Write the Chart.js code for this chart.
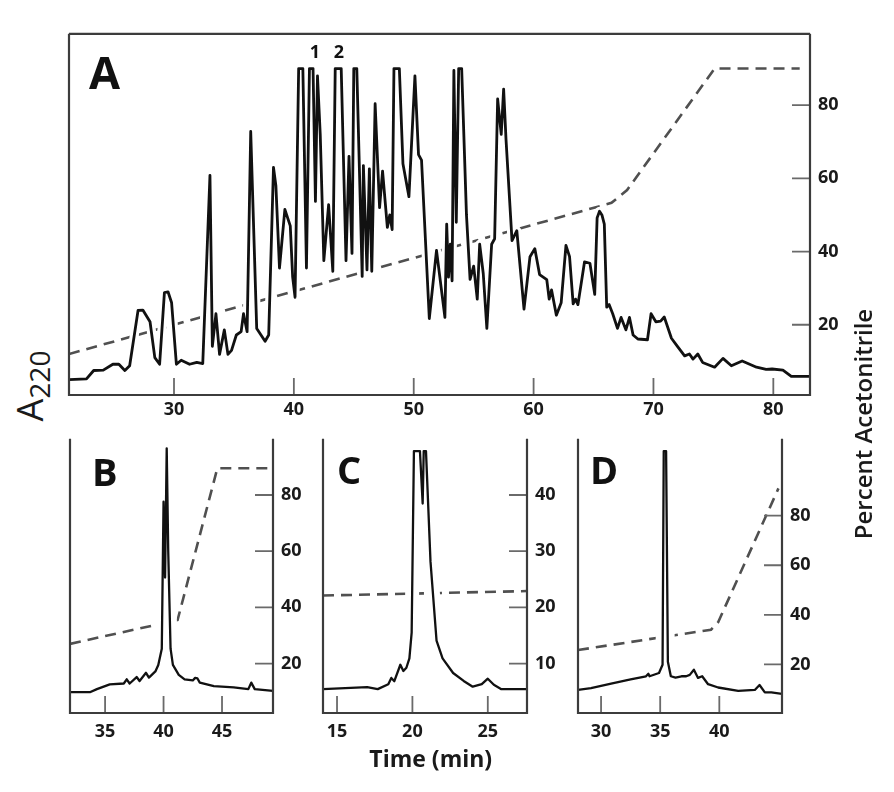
<!DOCTYPE html>
<html>
<head>
<meta charset="utf-8">
<script src="https://cdn.jsdelivr.net/npm/chart.js@4.4.1/dist/chart.umd.min.js"></script>
<style>
  body { margin: 0; background: #fff; width: 894px; height: 792px; position: relative; overflow: hidden; font-family: "Open Sans", sans-serif; }
  canvas { position: absolute; }
  .rot { position: absolute; transform: rotate(-90deg); white-space: nowrap; text-align: center; color: #1a1a1a; }
</style>
</head>
<body>
<canvas id="panelA" width="801" height="410" style="left:59px;top:15px"></canvas>
<canvas id="panelB" width="253" height="325" style="left:60px;top:420px"></canvas>
<canvas id="panelC" width="254" height="360" style="left:313px;top:420px"></canvas>
<canvas id="panelD" width="259" height="325" style="left:568px;top:420px"></canvas>
<div class="rot" style="left:713px;top:408px;width:300px;height:32px;line-height:32px;font-size:24px;font-weight:600">Percent Acetonitrile</div>
<div class="rot" style="left:-30px;top:366px;width:120px;height:40px;line-height:40px;font-size:36px;font-weight:500">A<span style="font-size:0.78em;vertical-align:-0.25em">220</span></div>
<script>
// ---- panel A : crude extract ----
const timeA = [21.24, 22.7, 23.3, 24.1, 24.9, 25.4, 25.9, 26.3, 27.0, 27.4, 28.0, 28.4, 28.8, 29.2, 29.5, 29.8,
  30.2, 30.6, 31.3, 31.9, 32.4, 33.0, 33.2, 33.5, 33.8, 34.2, 34.5, 34.8, 35.2, 35.6, 35.8, 36.1, 36.4, 36.9,
  37.6, 37.9, 38.3, 38.5, 38.8, 39.25, 39.7, 39.9, 40.1, 40.4, 40.75, 41.05, 41.3, 41.6, 41.8, 41.97, 42.2,
  42.5, 42.9, 43.25, 43.45, 43.95, 44.35, 44.6, 44.85, 45.0, 45.25, 45.7, 45.8, 46.1, 46.3, 46.5, 46.78,
  47.15, 47.4, 47.8, 48.0, 48.2, 48.35, 48.8, 49.1, 49.6, 50.1, 50.4, 50.65, 51.3, 51.9, 52.6, 52.75, 52.9,
  53.05, 53.2, 53.35, 53.55, 53.75, 54.0, 54.4, 54.7, 55.0, 55.3, 55.5, 55.8, 56.1, 56.5, 56.75, 57.0, 57.3,
  57.5, 57.7, 58.2, 58.6, 59.2, 59.7, 60.1, 60.5, 61.1, 61.3, 61.5, 61.9, 62.3, 62.7, 63.0, 63.3, 63.5, 63.7,
  64.25, 64.7, 65.1, 65.3, 65.5, 65.7, 65.9, 66.1, 66.3, 66.6, 67.0, 67.3, 67.7, 68.0, 68.3, 68.7, 69.5,
  69.8, 70.2, 70.6, 70.9, 71.5, 72.0, 72.6, 73.0, 73.3, 73.7, 74.1, 75.1, 75.8, 76.5, 77.4, 78.6, 79.4,
  79.9, 80.8, 81.5, 83.06];
const absA = [5.0, 5.2, 7.5, 7.6, 9.2, 9.2, 7.5, 8.8, 23.9, 24.0, 20.8, 11.0, 9.2, 28.8, 29.0, 26.0,
  9.2, 10.3, 9.2, 9.7, 9.4, 60.8, 14.1, 23.0, 11.9, 18.6, 11.9, 13.0, 17.2, 18.1, 23.0, 18.1, 72.8, 19.0,
  15.5, 17.2, 63.0, 58.0, 35.5, 51.5, 47.0, 33.0, 27.5, 90, 90, 35.5, 90, 90, 53.7, 88, 72,
  37.5, 52.8, 34.6, 90, 90, 37.5, 66, 39.5, 90, 90, 33.2, 63.5, 35, 62.6, 34.6, 80.4,
  52, 62, 46.6, 50, 46, 90, 90, 64, 55, 88, 66.5, 65, 21.7, 40.3, 22, 47.5, 33,
  42, 32, 89.5, 48, 90, 90, 50, 32.4, 36, 27, 42, 34, 19, 42, 43.5, 81.7, 72,
  84.4, 70.6, 43, 45.7, 24.3, 38.6, 40.8, 33.7, 32.3, 27, 29.5, 22.6, 26, 41.7, 38.6, 25.7, 27, 25.5,
  37.2, 36.8, 28.3, 49.2, 51, 50, 47.5, 24.8, 25.5, 23, 19, 22, 18.6, 22, 17.2, 16.1, 15.9,
  23, 20.8, 21, 22.1, 16.3, 14.1, 11.5, 12, 10.6, 12, 9.7, 8.4, 10.8, 8.8, 10.1, 8.4, 7.8,
  7.9, 7.6, 5.9, 5.9];
const gradTimeA = [21.24, 66.5, 67.8, 75.1, 82.2];
const gradA = [12, 53.3, 56.8, 90, 90];
const timeTicksA = [30, 40, 50, 60, 70, 80];
const pctTicksA = [20, 40, 60, 80];
const peakNames = ['1', '2'];
const peakTimes = [41.75, 43.75];

// ---- panel B ----
const timeB = [32.0, 33.7, 34.3, 35.4, 36.6, 36.85, 37.1, 37.7, 37.95, 38.5, 38.75, 39.3, 39.55, 39.85, 40.0,
  40.13, 40.27, 40.4, 40.6, 40.8, 41.3, 41.8, 42.5, 42.7, 42.9, 43.1, 44.3, 46.0, 47.25, 47.5, 47.8, 49.36];
const absB = [9.8, 9.8, 10.9, 12.6, 12.9, 14.4, 12.9, 15.2, 13.8, 16.7, 15.0, 17.2, 19.5, 25.3, 77.6,
  50.6, 96.6, 60, 25.3, 19.5, 16, 14.4, 14, 14.9, 14.7, 13.2, 12, 11.5, 10.9, 13.2, 10.9, 10.3];
const gradTimeB = [32.0, 41.2, 44.6, 49.36];
const gradB = [27, 35.5, 89.5, 89.5];
const timeTicksB = [35, 40, 45];
const pctTicksB = [20, 40, 60, 80];

// ---- panel C ----
const timeC = [14.07, 17.0, 17.7, 18.4, 18.6, 18.8, 19.2, 19.4, 19.6, 19.8, 19.95, 20.1, 20.5, 20.68, 20.75,
  20.9, 21.2, 21.6, 22.0, 22.7, 23.4, 24.0, 24.6, 25.0, 25.4, 25.9, 27.6];
const absC = [8.7, 9.4, 8.7, 10.5, 12.8, 11.6, 17.6, 15.3, 16.5, 19.9, 29.3, 95.5, 95.5, 76.4, 95.5,
  95.5, 55.2, 26.4, 19.9, 14.6, 11.7, 9.6, 10.5, 12.5, 10.3, 8.7, 8.7];
const gradTimeC = [14.07, 27.6];
const gradC = [22.1, 22.9];
const timeTicksC = [15, 20, 25];
const pctTicksC = [10, 20, 30, 40];

// ---- panel D ----
const timeD = [28.05, 29.15, 30.85, 32.5, 33.8, 34.0, 34.1, 34.9, 35.2, 35.3, 35.5, 35.65, 35.9, 36.3, 36.8,
  37.2, 37.5, 37.85, 38.2, 38.55, 39.05, 39.9, 41.6, 43.0, 43.4, 43.85, 44.4, 45.3];
const absD = [8.4, 9.1, 10.7, 12.3, 13.4, 14.3, 13.4, 14.6, 17.6, 95.5, 95.5, 18.7, 13.4, 12.9, 13.4,
  13.4, 13.9, 15.8, 12.8, 13.4, 10.5, 9.3, 8.1, 8.4, 10.2, 7.5, 7.5, 7.0];
const gradTimeD = [28.05, 39.3, 39.9, 45.0];
const gradD = [25.8, 34, 37, 91];
const timeTicksD = [30, 35, 40];
const pctTicksD = [20, 40, 60, 80];

const tickFont = { family: 'Open Sans', size: 18, weight: '700' };

// frame, inward tick marks, panel letter and peak numbers
const framePlugin = {
  id: 'frame',
  afterDatasetsDraw(chart, args, opts) {
    const { ctx, chartArea: a } = chart;
    const xs = chart.scales.x, ys = chart.scales.y;
    ctx.save();
    ctx.strokeStyle = '#6a6a6a';
    ctx.lineWidth = 1.8;
    ctx.beginPath();
    xs.ticks.forEach(t => {
      const px = xs.getPixelForValue(t.value);
      ctx.moveTo(px, a.bottom); ctx.lineTo(px, a.bottom - 17);
    });
    ys.ticks.forEach(t => {
      const py = ys.getPixelForValue(t.value);
      ctx.moveTo(a.right, py); ctx.lineTo(a.right - 18, py);
    });
    ctx.stroke();
    ctx.strokeStyle = '#3c3c3c';
    ctx.lineWidth = 2.2;
    ctx.beginPath();
    if (opts.top) {
      ctx.moveTo(a.left, a.top); ctx.lineTo(a.right, a.top);
    }
    ctx.moveTo(a.left, a.top); ctx.lineTo(a.left, a.bottom);
    ctx.lineTo(a.right, a.bottom); ctx.lineTo(a.right, a.top);
    ctx.stroke();

    ctx.fillStyle = '#111';
    ctx.textBaseline = 'alphabetic';
    ctx.textAlign = 'left';
    ctx.font = '700 ' + opts.letterSize + 'px "Open Sans"';
    ctx.fillText(opts.letter, a.left + opts.letterDx, a.top + opts.letterDy);
    if (opts.names) {
      const abs = chart.scales.abs;
      ctx.textAlign = 'center';
      ctx.font = '700 18px "Open Sans"';
      opts.names.forEach((n, i) => {
        ctx.fillText(n, xs.getPixelForValue(opts.times[i]), abs.getPixelForValue(opts.level));
      });
    }
    ctx.restore();
  }
};

function panel(id, p) {
  const trace = p.time.map((t, i) => ({ x: t, y: p.abs[i] }));
  const grad = p.gradTime.map((t, i) => ({ x: t, y: p.grad[i] }));
  return new Chart(document.getElementById(id), {
    type: 'line',
    data: {
      datasets: [
        { data: trace, yAxisID: 'abs', borderColor: '#111', borderWidth: p.lw, borderJoinStyle: 'round',
          pointRadius: 0, tension: 0, order: 1 },
        { data: trace, yAxisID: 'abs', borderColor: '#fff', borderWidth: p.halo, borderJoinStyle: 'round',
          pointRadius: 0, tension: 0, order: 2, clip: 0 },
        { data: grad, yAxisID: 'y', borderColor: '#505050', borderWidth: 2.6, borderDash: [11, 7],
          pointRadius: 0, tension: 0, order: 3 }
      ]
    },
    options: {
      responsive: false,
      animation: false,
      events: [],
      layout: { padding: { left: 10, top: 10, right: 0, bottom: 0 } },
      plugins: {
        legend: { display: false },
        tooltip: { enabled: false },
        frame: p.frame
      },
      scales: {
        x: {
          type: 'linear', min: p.tMin, max: p.tMax,
          afterBuildTicks: s => { s.ticks = p.timeTicks.map(v => ({ value: v })); },
          afterFit: s => { s.height = p.xh; },
          grid: { display: false, drawTicks: false },
          border: { display: false },
          ticks: { padding: p.xpad, font: tickFont, color: '#1a1a1a', maxRotation: 0, autoSkip: false },
          title: p.xTitle ? { display: true, text: p.xTitle, color: '#1a1a1a',
            font: { family: 'Open Sans', size: 23, weight: '700' }, padding: { top: 0, bottom: 6 } } : { display: false }
        },
        y: {
          position: 'right', min: p.pMin, max: p.pMax,
          afterBuildTicks: s => { s.ticks = p.pctTicks.map(v => ({ value: v })); },
          afterFit: s => { s.width = p.yw; },
          grid: { display: false, drawTicks: false },
          border: { display: false },
          ticks: { padding: 8, font: tickFont, color: '#1a1a1a', autoSkip: false }
        },
        abs: { display: false, position: 'left', min: p.aMin, max: p.aMax }
      }
    },
    plugins: [framePlugin]
  });
}

let chromA = panel('panelA', {
  time: timeA, abs: absA, gradTime: gradTimeA, grad: gradA, timeTicks: timeTicksA, pctTicks: pctTicksA,
  tMin: 21.24, tMax: 83.06, pMin: 0.8, pMax: 99.5, aMin: 0.8, aMax: 99.5,
  lw: 2.8, halo: 9, xh: 30, xpad: 4, yw: 50,
  frame: { top: true, letter: 'A', letterSize: 45, letterDx: 20, letterDy: 55,
    names: peakNames, times: peakTimes, level: 92.8 }
});

let chromB = panel('panelB', {
  time: timeB, abs: absB, gradTime: gradTimeB, grad: gradB, timeTicks: timeTicksB, pctTicks: pctTicksB,
  tMin: 32.0, tMax: 49.36, pMin: 2.4, pMax: 100, aMin: 2.4, aMax: 100,
  lw: 2.3, halo: 14, xh: 32, xpad: 8, yw: 40,
  frame: { top: false, letter: 'B', letterSize: 38, letterDx: 22, letterDy: 47 }
});

let chromC = panel('panelC', {
  time: timeC, abs: absC, gradTime: gradTimeC, grad: gradC, timeTicks: timeTicksC, pctTicks: pctTicksC,
  tMin: 14.07, tMax: 27.6, pMin: 1.2, pMax: 50, aMin: 0, aMax: 100,
  lw: 2.3, halo: 14, xh: 67, xpad: 8, yw: 40, xTitle: '\u2002Time (min)',
  frame: { top: false, letter: 'C', letterSize: 38, letterDx: 14, letterDy: 45 }
});

let chromD = panel('panelD', {
  time: timeD, abs: absD, gradTime: gradTimeD, grad: gradD, timeTicks: timeTicksD, pctTicks: pctTicksD,
  tMin: 28.05, tMax: 45.3, pMin: 0.4, pMax: 111, aMin: 0, aMax: 100,
  lw: 2.3, halo: 14, xh: 32, xpad: 8, yw: 45,
  frame: { top: false, letter: 'D', letterSize: 38, letterDx: 12, letterDy: 45 }
});
</script>
</body>
</html>
